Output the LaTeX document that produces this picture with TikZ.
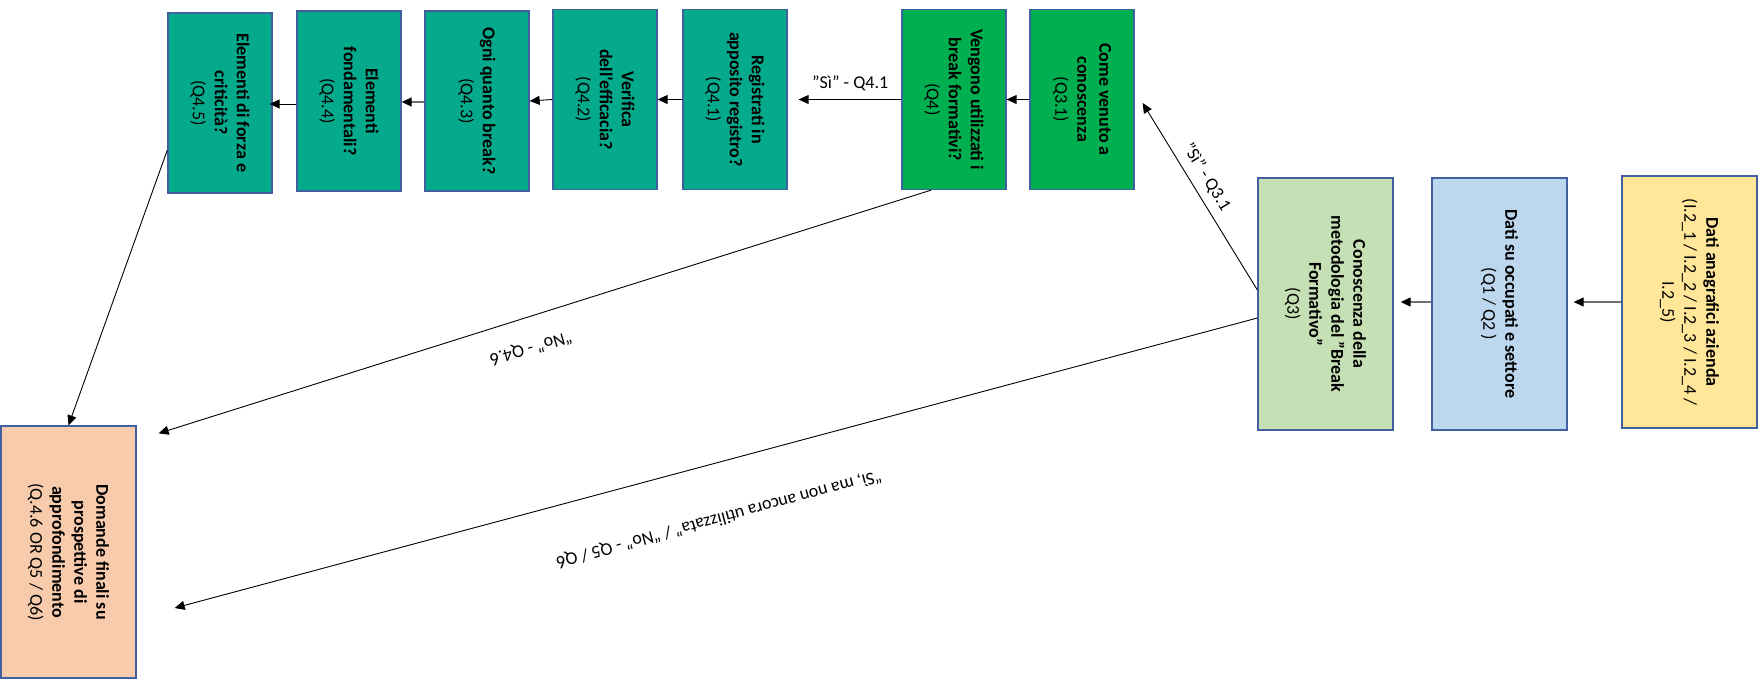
\documentclass[tikz,border=0pt]{standalone}
\usepackage{fontspec}
\setmainfont{Carlito}
\usetikzlibrary{arrows.meta,calc}
\definecolor{tealbox}{HTML}{05A98C}
\definecolor{greenbox}{HTML}{00B050}
\definecolor{lgreen}{HTML}{C5E0B4}
\definecolor{lblue}{HTML}{BDD7EE}
\definecolor{lyellow}{HTML}{FFE699}
\definecolor{peach}{HTML}{F8CBAD}
\definecolor{bordercol}{HTML}{41609F}
\definecolor{arrowgray}{HTML}{6F6F6F}
\begin{document}
\begin{tikzpicture}[x=1pt,y=-1pt,
  box/.style={draw=bordercol, line width=1.3pt, inner sep=0pt, minimum width=104pt, minimum height=180pt},
  widebox/.style={box, minimum width=135pt, minimum height=252pt},
  vtxt/.style={rotate=-90, align=center, font=\fontsize{18}{22}\selectfont, inner sep=0pt},
  lbl/.style={font=\fontsize{18}{22}\selectfont, inner sep=0pt},
  arr/.style={-{Triangle[length=10pt,width=9pt]}, line width=0.9pt, black},
  grayarr/.style={-{Triangle[length=10pt,width=9pt,color=black]}, line width=1.2pt, arrowgray}]
\useasboundingbox (0,0) rectangle (1764,681);

% boxes
\node[box, fill=tealbox] (q45) at (220,103) {};
\node[vtxt] (q45t) at (q45) {\textbf{Elementi di forza e}\\\textbf{criticità?}\\(Q4.5)};
\node[box, fill=tealbox] (q44) at (349,101) {};
\node[vtxt] (q44t) at (q44) {\textbf{Elementi}\\\textbf{fondamentali?}\\(Q4.4)};
\node[box, fill=tealbox] (q43) at (477,101) {};
\node[vtxt] (q43t) at (q43) {\textbf{Ogni quanto break?}\\(Q4.3)};
\node[box, fill=tealbox] (q42) at (605,99.5) {};
\node[vtxt] (q42t) at (q42) {\textbf{Verifica}\\\textbf{dell'efficacia?}\\(Q4.2)};
\node[box, fill=tealbox] (q41) at (735,99.5) {};
\node[vtxt] (q41t) at (q41) {\textbf{Registrati in}\\\textbf{apposito registro?}\\(Q4.1)};
\node[box, fill=greenbox] (q4) at (954,99.5) {};
\node[vtxt] (q4t) at (q4) {\textbf{Vengono utilizzati i}\\\textbf{break formativi?}\\(Q4)};
\node[box, fill=greenbox] (q31) at (1082,99.5) {};
\node[vtxt] (q31t) at (q31) {\textbf{Come venuto a}\\\textbf{conoscenza}\\(Q3.1)};

\node[widebox, fill=lgreen] (q3) at (1325.5,304) {};
\node[vtxt] (q3t) at (q3) {\textbf{Conoscenza della}\\\textbf{metodologia del "Break}\\\textbf{Formativo"}\\(Q3)};
\node[widebox, fill=lblue] (q12) at (1499.5,304) {};
\node[vtxt] (q12t) at (q12) {\textbf{Dati su occupati e settore}\\(Q1 / Q2 )};
\node[widebox, fill=lyellow] (dati) at (1689.5,302) {};
\node[vtxt] (datit) at (dati) {\textbf{Dati anagrafici azienda}\\(I.2\_1 / I.2\_2 / I.2\_3 / I.2\_4 /\\I.2\_5)};
\node[widebox, fill=peach] (dom) at (68.5,552) {};
\node[vtxt] (domt) at (dom) {\textbf{Domande finali su}\\\textbf{prospettive di}\\\textbf{approfondimento}\\(Q.4.6 OR Q5 / Q6)};

% connectors
\draw[grayarr] (dati.west) -- (dati.west -| q12.east) [shorten >=6pt];
\draw[grayarr, shorten >=7pt] (q12.west |- 0,302) -- (q3.east |- 0,302);
\draw[arr] ([yshift=14pt]q3.west) -- node[lbl, sloped, anchor=south, inner sep=8pt, pos=0.56] (l31) {"Sì" - Q3.1} ([xshift=8pt,yshift=-3.5pt]q31.east);
\draw[arr] (q31.west) -- (q4.east);
\draw[arr, shorten >=11pt] (q4.west) -- node[lbl, pos=0.45, anchor=south, yshift=8pt] (l41) {"Sì" - Q4.1} (q41.east);
\draw[arr] (q41.west) -- (q42.east);
\draw[arr] (q42.west) -- (q43.east);
\draw[grayarr] (q43.west |- 0,102) -- (q44.east |- 0,102);
\draw[arr] (q44.west |- 0,104) -- (q45.east |- 0,104) [shorten >=-3pt];
\draw[arr] ([yshift=-47pt]q45.west) -- (dom.north);
\draw[arr] ([xshift=-23pt]q4.south) -- ([xshift=22pt,yshift=-8pt]dom.north east);
\draw[arr] ([yshift=-14pt]q3.west) -- ([xshift=38pt,yshift=-56pt]dom.east);

% upside-down labels
\node[lbl, rotate=196] (l46) at (531,348) {“No” - Q4.6};
\node[lbl, rotate=195] (l56) at (719,519) {“Sì, ma non ancora utilizzata” / “No” - Q5 / Q6};
\end{tikzpicture}
\end{document}
